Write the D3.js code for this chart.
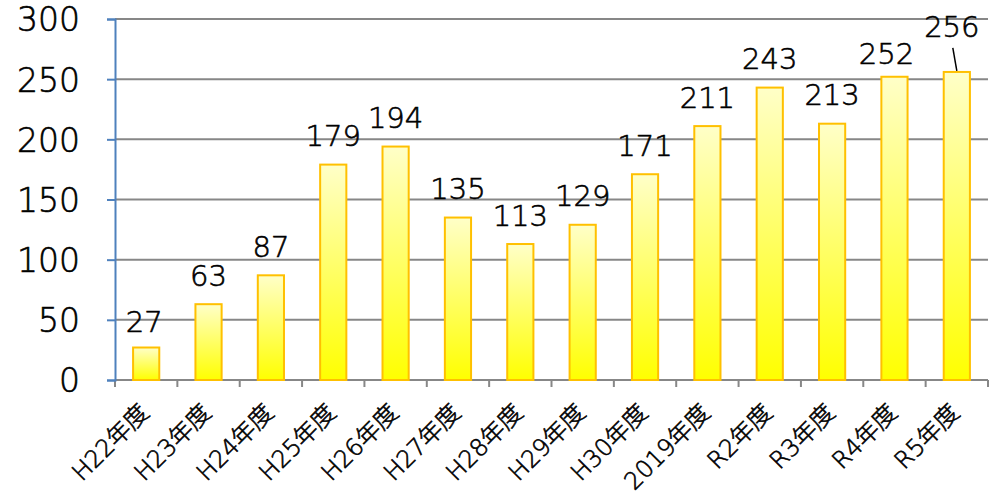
<!DOCTYPE html>
<html>
<head>
<meta charset="utf-8">
<script src="https://cdn.jsdelivr.net/npm/d3@7"></script>
<style>
  html, body { margin: 0; padding: 0; background: #fff; }
  svg { display: block; }
  text {
    font-family: "DejaVu Sans", "Noto Sans CJK JP", sans-serif;
    font-weight: 200;
    fill: #000;
    stroke: #000;
    stroke-width: 0.6px;
  }
</style>
</head>
<body>
<svg id="chart" width="997" height="496"></svg>
<script>
// Fiscal years and yearly counts
const categories = ["H22年度", "H23年度", "H24年度", "H25年度", "H26年度", "H27年度", "H28年度",
                    "H29年度", "H30年度", "2019年度", "R2年度", "R3年度", "R4年度", "R5年度"];
const counts = [27, 63, 87, 179, 194, 135, 113, 129, 171, 211, 243, 213, 252, 256];
const yTicks = [0, 50, 100, 150, 200, 250, 300];

const svg = d3.select("#chart");
const W = 997, H = 496;
const margin = { left: 115, right: 9, top: 19, bottom: 116 };

const x = d3.scaleBand()
  .domain(categories)
  .range([margin.left, W - margin.right])
  .paddingInner(0.58)
  .paddingOuter(0.29);

const y = d3.scaleLinear()
  .domain([0, 300])
  .range([H - margin.bottom, margin.top]);

// Bar fill: pale cream at the top fading into bright yellow at the base
const defs = svg.append("defs");
const grad = defs.append("linearGradient")
  .attr("id", "barFill")
  .attr("x1", 0).attr("y1", 0).attr("x2", 0).attr("y2", 1);
grad.append("stop").attr("offset", "0%").attr("stop-color", "#ffffc8");
grad.append("stop").attr("offset", "100%").attr("stop-color", "#ffff00");

// Horizontal gridlines
svg.append("g")
  .selectAll("line")
  .data(yTicks.filter(d => d > 0))
  .join("line")
  .attr("x1", margin.left).attr("x2", W - margin.right)
  .attr("y1", d => y(d)).attr("y2", d => y(d))
  .attr("stroke", "#878787").attr("stroke-width", 2);

// Category axis with tick marks on the band boundaries
const xAxisY = y(0);
const boundaries = categories.map((c, i) => margin.left + i * x.step());
boundaries.push(W - margin.right);
const xg = svg.append("g");
xg.append("line")
  .attr("x1", margin.left).attr("x2", W - margin.right)
  .attr("y1", xAxisY).attr("y2", xAxisY)
  .attr("stroke", "#878787").attr("stroke-width", 2);
xg.selectAll("line.tick")
  .data(boundaries)
  .join("line")
  .attr("class", "tick")
  .attr("x1", d => d).attr("x2", d => d)
  .attr("y1", xAxisY).attr("y2", xAxisY + 7)
  .attr("stroke", "#878787").attr("stroke-width", 2);

// Bars
svg.append("g")
  .selectAll("rect")
  .data(counts)
  .join("rect")
  .attr("x", (d, i) => x(categories[i]))
  .attr("width", x.bandwidth())
  .attr("y", d => y(d))
  .attr("height", d => y(0) - y(d))
  .attr("fill", "url(#barFill)")
  .attr("stroke", "#ffc000")
  .attr("stroke-width", 2);

// Value axis
const yAxis = d3.axisLeft(y).tickValues(yTicks).tickSize(8).tickPadding(27);
const yg = svg.append("g")
  .attr("transform", `translate(${margin.left},0)`)
  .call(yAxis);
yg.select(".domain").attr("stroke", "#4f81bd").attr("stroke-width", 2);
yg.selectAll(".tick line").attr("stroke", "#4f81bd").attr("stroke-width", 2);
yg.selectAll(".tick text")
  .attr("font-family", null)
  .attr("font-size", null)
  .style("font-size", "33px")
  .attr("dy", "0.36em");

// Category labels, rotated 45°
svg.append("g")
  .selectAll("text")
  .data(categories)
  .join("text")
  .attr("transform", d => `translate(${x(d) + x.bandwidth() / 2 + 4},${xAxisY + 34}) rotate(-45)`)
  .attr("text-anchor", "end")
  .style("font-size", "24px")
  .text(d => d);

// Value labels above the bars; a few are nudged by hand, the last one is
// lifted clear of its neighbour and tied back to its bar with a leader line
const lastIdx = counts.length - 1;
const labelNudge = { 0: { dx: -2, lift: 16 }, 12: { dx: -8, lift: 12.5 }, 13: { dx: -5, lift: 35 } };
const lift = i => (labelNudge[i] ? labelNudge[i].lift : 18.5);
const shift = i => (labelNudge[i] ? labelNudge[i].dx : 0);
svg.append("g")
  .selectAll("text")
  .data(counts)
  .join("text")
  .attr("x", (d, i) => x(categories[i]) + x.bandwidth() / 2 + shift(i))
  .attr("y", (d, i) => y(d) - lift(i))
  .attr("text-anchor", "middle")
  .style("font-size", "29px")
  .text(d => d);

const cx = x(categories[lastIdx]) + x.bandwidth() / 2;
svg.append("line")
  .attr("x1", cx - 4).attr("y1", y(counts[lastIdx]) - 24)
  .attr("x2", cx).attr("y2", y(counts[lastIdx]) - 1)
  .attr("stroke", "#000").attr("stroke-width", 1.5);
</script>
</body>
</html>
